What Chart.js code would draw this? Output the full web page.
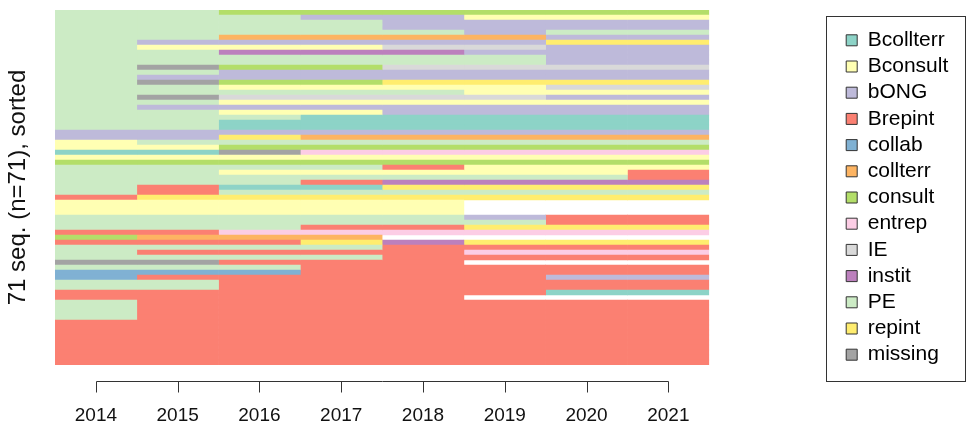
<!DOCTYPE html>
<html>
<head>
<meta charset="utf-8">
<script src="https://cdn.jsdelivr.net/npm/chart.js@4.4.1/dist/chart.umd.min.js"></script>
<style>
  html, body { margin: 0; padding: 0; background: #ffffff; }
  #wrap { width: 967px; height: 436px; }
</style>
</head>
<body>
<div id="wrap"><canvas id="seqplot" width="967" height="436"></canvas></div>
<script>
// Time points (columns of the index plot)
const years = ['2014', '2015', '2016', '2017', '2018', '2019', '2020', '2021'];

// State alphabet, the short codes used below, and the state colours
const stateNames  = ['Bcollterr', 'Bconsult', 'bONG', 'Brepint', 'collab', 'collterr', 'consult', 'entrep', 'IE', 'instit', 'PE', 'repint', 'missing'];
const stateCodes  = ['Bt', 'Bc', 'B', 'Br', 'Cl', 'Co', 'C', 'E', 'IE', 'In', 'PE', 'R', 'M'];
const stateColors = ['#8DD3C7', '#FFFFB3', '#BEBADA', '#FB8072', '#80B1D3', '#FDB462', '#B3DE69', '#FCCDE5', '#D9D9D9', '#BC80BD', '#CCEBC5', '#FFED6F', '#A3A3A3'];

// Sorted sequences, listed from the top row down; '-' = no observation
const sequences = [
  'PE PE C C C C C C',
  'PE PE PE B B Bc Bc Bc',
  'PE PE PE PE B B B B',
  'PE PE PE PE B B B B',
  'PE PE PE PE PE B PE PE',
  'PE PE Co Co Co Co B B',
  'PE B B B B B R R',
  'PE Bc Bc Bc IE IE B B',
  'PE PE In In In B B B',
  'PE PE PE PE PE PE B B',
  'PE PE PE PE PE PE B B',
  'PE M C C IE IE IE IE',
  'PE PE B B B B B B',
  'PE B B B B B B B',
  'PE M C C R R R R',
  'PE PE Bc Bc Bc Bc IE IE',
  'PE PE PE PE PE Bc Bc Bc',
  'PE M IE IE IE IE B B',
  'PE PE Bc Bc Bc Bc Bc Bc',
  'PE B B B B B B B',
  'PE PE Bc Bc B B B B',
  'PE PE PE Bt Bt Bt Bt Bt',
  'PE PE Bt Bt Bt Bt Bt Bt',
  'PE PE Bt Bt Bt Bt Bt Bt',
  'B B B B B B B B',
  'B B R Co Co Co Co Co',
  'Bc PE PE PE PE PE PE PE',
  'Bc Bc C C C C C C',
  'Bt Bt M E E E E E',
  'Bc Bc Bc Bc Bc Bc Bc Bc',
  'C C C C C C C C',
  'PE PE PE PE Br Bc Bc Bc',
  'PE PE Bc Bc Bc Bc Bc Br',
  'PE PE PE PE PE PE PE Br',
  'PE PE PE Br In In In In',
  'PE Br Bt Bt R R R R',
  'PE Br PE PE PE PE PE PE',
  'Br R R R R R R R',
  'Bc Bc Bc Bc Bc - - -',
  'Bc Bc Bc Bc Bc - - -',
  'Bc Bc Bc Bc Bc - - -',
  'PE PE PE PE PE B Br Br',
  'PE PE PE PE PE PE Br Br',
  'PE PE PE Br Br R R R',
  'Br Br E E E E E E',
  'C Co Co Co - - - -',
  'Br Br Br R In R R R',
  'PE PE PE PE Br Br Br Br',
  'PE Br Br Br Br E E E',
  'PE PE PE PE Br Br Br Br',
  'M M Br Br Br - - -',
  'PE PE PE Br Br Br Br Br',
  'Cl Cl Cl Br Br Br Br Br',
  'Cl Br Br Br Br Br B B',
  'PE PE Br Br Br Br Br Br',
  'PE PE Br Br Br Br Br Br',
  'Br Br Br Br Br Br Bt Bt',
  'Br Br Br Br Br - - -',
  'PE Br Br Br Br Br Br Br',
  'PE Br Br Br Br Br Br Br',
  'PE Br Br Br Br Br Br Br',
  'PE Br Br Br Br Br Br Br',
  'Br Br Br Br Br Br Br Br',
  'Br Br Br Br Br Br Br Br',
  'Br Br Br Br Br Br Br Br',
  'Br Br Br Br Br Br Br Br',
  'Br Br Br Br Br Br Br Br',
  'Br Br Br Br Br Br Br Br',
  'Br Br Br Br Br Br Br Br',
  'Br Br Br Br Br Br Br Br',
  'Br Br Br Br Br Br Br Br'
];

// ---- layout constants ----
const FONT_FAMILY = "'Liberation Sans', Arial, sans-serif";
const CANVAS_W = 967, CANVAS_H = 436;
const PLOT_LEFT = 55, PLOT_TOP = 10, PLOT_RIGHT = 709, PLOT_BOTTOM = 365;
const LEG_FONT = 21, LEG_BOX = 11, LEG_PAD = 5.2, LEG_EXTRA = 5;
const LEGEND_LEFT = 841, LEGEND_DY = 10;
const TICK_FONT = 19, TITLE_FONT = 24;

Chart.defaults.font.family = FONT_FAMILY;

const rows = sequences.map(s => s.split(' '));
const nSeq = rows.length;
const colorOf = code => code === '-' ? 'rgba(0,0,0,0)' : stateColors[stateCodes.indexOf(code)];

// one floating-bar dataset per year: row i spans [j, j+1] on the time axis
const datasets = years.map((yr, j) => ({
  label: yr,
  data: rows.map(r => (r[j] === '-' ? null : [j, j + 1])),
  backgroundColor: rows.map(r => colorOf(r[j])),
  borderWidth: 0,
  barPercentage: 1,
  categoryPercentage: 1,
  grouped: false
}));

// width the legend box will take, so the plot ends where intended
const mctx = document.createElement('canvas').getContext('2d');
mctx.font = `normal ${LEG_FONT}px ${FONT_FAMILY}`;
const maxText = Math.max(...stateNames.map(s => mctx.measureText(s).width));
const legendWidth = 2 * LEG_PAD + LEG_BOX + LEG_FONT / 2 + maxText + LEG_EXTRA;
const rightPad = CANVAS_W - PLOT_RIGHT - legendWidth;

const decor = {
  id: 'decor',
  afterLayout(chart) {
    const lg = chart.legend;
    const dx = LEGEND_LEFT - lg.left;
    lg.left += dx; lg.right += dx;
    lg.top += LEGEND_DY; lg.bottom += LEGEND_DY;
  },
  afterDraw(chart) {
    const { ctx, chartArea } = chart;
    const x = chart.scales.x;
    ctx.save();
    ctx.strokeStyle = '#333333';
    ctx.lineWidth = 1;
    // time axis: line from first to last tick, ticks pointing down
    const ya = Math.round(chartArea.bottom + 16) + 0.5;
    const xa = Math.round(x.getPixelForValue(0.5)) + 0.5;
    const xb = Math.round(x.getPixelForValue(years.length - 0.5)) + 0.5;
    ctx.beginPath();
    ctx.moveTo(xa, ya); ctx.lineTo(xb, ya);
    years.forEach((_, i) => {
      const px = Math.round(x.getPixelForValue(i + 0.5)) + 0.5;
      ctx.moveTo(px, ya); ctx.lineTo(px, ya + 11);
    });
    ctx.stroke();
    // frame round the legend
    ctx.strokeRect(826.5, 16.5, 139, 365);
    ctx.restore();
  }
};

new Chart(document.getElementById('seqplot'), {
  type: 'bar',
  data: {
    labels: rows.map((_, i) => String(nSeq - i)),
    datasets
  },
  options: {
    indexAxis: 'y',
    responsive: false,
    animation: false,
    events: [],
    layout: { padding: { left: 0, top: PLOT_TOP, right: rightPad, bottom: 0 } },
    scales: {
      x: {
        type: 'linear',
        min: 0,
        max: years.length,
        grid: { display: false, drawTicks: false },
        border: { display: false },
        afterBuildTicks: s => { s.ticks = years.map((_, i) => ({ value: i + 0.5 })); },
        ticks: {
          autoSkip: false,
          maxRotation: 0,
          padding: 39,
          color: '#111111',
          font: { size: TICK_FONT },
          callback: v => years[Math.floor(v)]
        },
        afterFit: s => { s.height = CANVAS_H - PLOT_BOTTOM; }
      },
      y: {
        type: 'category',
        grid: { display: false, drawTicks: false },
        border: { display: false },
        ticks: { display: false },
        title: {
          display: true,
          text: `${nSeq} seq. (n=${nSeq}), sorted`,
          color: '#111111',
          font: { size: TITLE_FONT },
          padding: { top: 4, bottom: 0 }
        },
        afterFit: s => { s.width = PLOT_LEFT; }
      }
    },
    plugins: {
      tooltip: { enabled: false },
      legend: {
        position: 'right',
        fullSize: false,
        labels: {
          boxWidth: LEG_BOX,
          boxHeight: LEG_BOX,
          padding: LEG_PAD,
          color: '#111111',
          font: { size: LEG_FONT },
          generateLabels: () => stateNames.map((s, i) => ({
            text: s,
            fillStyle: stateColors[i],
            strokeStyle: '#333333',
            lineWidth: 1,
            hidden: false,
            index: i
          }))
        }
      }
    }
  },
  plugins: [decor]
});
</script>
</body>
</html>
